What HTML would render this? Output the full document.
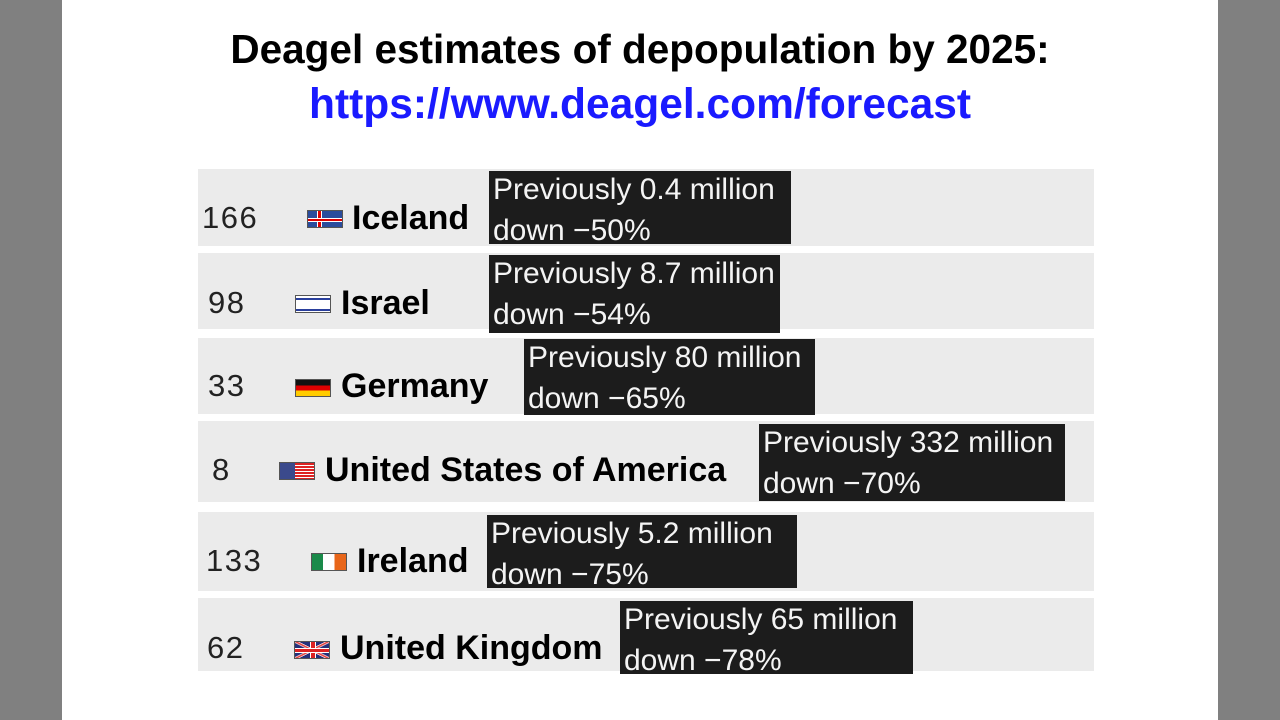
<!DOCTYPE html>
<html><head><meta charset="utf-8"><style>
body{margin:0;width:1280px;height:720px;background:#808080;position:relative;overflow:hidden;font-family:"Liberation Sans","DejaVu Sans",sans-serif}
.page{position:absolute;left:62px;top:0;width:1156px;height:720px;background:#fff}
.t{position:absolute;left:0;width:1280px;text-align:center;font-weight:bold;white-space:nowrap}
.row{position:absolute;left:198px;width:896px;background:#ebebeb}
.num{position:absolute;font-size:31px;letter-spacing:1.5px;color:#222;white-space:nowrap}
.name{position:absolute;font-size:34px;font-weight:bold;color:#000;white-space:nowrap;margin-top:3px}
.box{position:absolute;background:#1c1c1c;color:#f4f4f4;font-size:30px;line-height:41px;padding-left:4px;box-sizing:border-box;white-space:nowrap;overflow:hidden}
.box span{display:block;margin-top:-2px}
.flag{position:absolute;width:36px;height:18px;border:1px solid #555;box-sizing:border-box;margin-top:1px}
</style></head><body>
<div class="page"></div>
<div class="t" style="top:26px;font-size:40.5px;color:#000">Deagel estimates of depopulation by 2025:</div>
<div class="t" style="top:81px;font-size:42.5px;color:#1a1aff">https://www.deagel.com/forecast</div>

<div class="row" style="top:169px;height:77px"></div>
<div class="row" style="top:253px;height:76px"></div>
<div class="row" style="top:338px;height:76px"></div>
<div class="row" style="top:421px;height:81px"></div>
<div class="row" style="top:512px;height:79px"></div>
<div class="row" style="top:598px;height:73px"></div>

<div class="num" style="left:202px;top:200px">166</div>
<div class="flag" style="left:307px;top:209px;background:linear-gradient(#0000 7px,#fff 7px,#fff 8px,#d00 8px,#d00 10px,#fff 10px,#fff 11px,#0000 11px),linear-gradient(90deg,#0000 9px,#fff 9px,#fff 10px,#d00 10px,#d00 13px,#fff 13px,#fff 14px,#0000 14px),#2a4c9c"></div>
<div class="name" style="left:352px;top:196px">Iceland</div>
<div class="box" style="left:489px;top:171px;width:302px;height:73px"><span>Previously 0.4 million<br>down −50%</span></div>

<div class="num" style="left:208px;top:285px">98</div>
<div class="flag" style="left:295px;top:294px;background:linear-gradient(#fff 2px,#2a3f9c 2px,#2a3f9c 4px,#fff 4px,#fff 13px,#2a3f9c 13px,#2a3f9c 15px,#fff 15px)"></div>
<div class="name" style="left:341px;top:281px">Israel</div>
<div class="box" style="left:489px;top:255px;width:291px;height:78px"><span>Previously 8.7 million<br>down −54%</span></div>

<div class="num" style="left:208px;top:368px">33</div>
<div class="flag" style="left:295px;top:378px;background:linear-gradient(#111 33%,#d00 33%,#d00 66%,#fc0 66%)"></div>
<div class="name" style="left:341px;top:364px">Germany</div>
<div class="box" style="left:524px;top:339px;width:291px;height:76px"><span>Previously 80 million<br>down −65%</span></div>

<div class="num" style="left:212px;top:452px">8</div>
<div class="flag" style="left:279px;top:461px;background:linear-gradient(90deg,#3b4a8c 15px,#0000 15px),repeating-linear-gradient(#d22 0 2px,#fff 2px 3px)"></div>
<div class="name" style="left:325px;top:448px">United States of America</div>
<div class="box" style="left:759px;top:424px;width:306px;height:77px"><span>Previously 332 million<br>down −70%</span></div>

<div class="num" style="left:206px;top:543px">133</div>
<div class="flag" style="left:311px;top:552px;background:linear-gradient(90deg,#1a8a4a 33%,#fff 33%,#fff 66%,#e8661a 66%)"></div>
<div class="name" style="left:357px;top:539px">Ireland</div>
<div class="box" style="left:487px;top:515px;width:310px;height:73px"><span>Previously 5.2 million<br>down −75%</span></div>

<div class="num" style="left:207px;top:630px">62</div>
<div class="flag" style="left:294px;top:640px;background:linear-gradient(#0000 6px,#fff 6px,#fff 7px,#d22 7px,#d22 10px,#fff 10px,#fff 11px,#0000 11px),linear-gradient(90deg,#0000 15px,#fff 15px,#fff 16px,#d22 16px,#d22 20px,#fff 20px,#fff 21px,#0000 21px),linear-gradient(27deg,#0000 45%,#fff 45%,#d22 50%,#fff 55%,#0000 55%),linear-gradient(-27deg,#0000 45%,#fff 45%,#d22 50%,#fff 55%,#0000 55%),#24307a"></div>
<div class="name" style="left:340px;top:626px">United Kingdom</div>
<div class="box" style="left:620px;top:601px;width:293px;height:73px"><span>Previously 65 million<br>down −78%</span></div>
</body></html>
